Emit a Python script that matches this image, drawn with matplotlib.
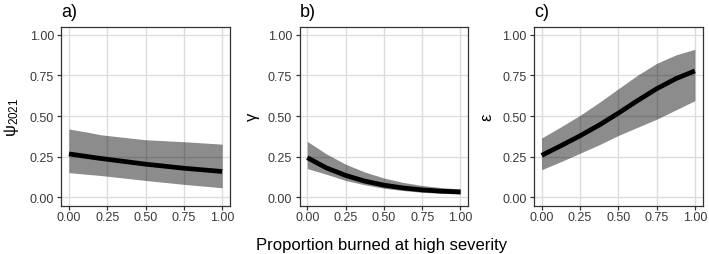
import matplotlib
matplotlib.use("Agg")
import matplotlib.pyplot as plt

plt.rcParams['font.family'] = ['Liberation Sans', 'DejaVu Sans']
plt.rcParams['mathtext.fontset'] = 'custom'
plt.rcParams['mathtext.rm'] = 'Liberation Sans'
plt.rcParams['mathtext.it'] = 'Liberation Sans'

# Panel a) psi_2021
x_a = [0.0, 0.125, 0.2, 0.25, 0.5, 0.75, 1.0]
mean_a = [0.267, 0.250, 0.240, 0.234, 0.204, 0.179, 0.159]
lower_a = [0.152, 0.141, 0.135, 0.130, 0.104, 0.080, 0.059]
upper_a = [0.420, 0.400, 0.386, 0.380, 0.354, 0.342, 0.327]

# Panel b) gamma
x_b = [0.0, 0.125, 0.25, 0.375, 0.5, 0.625, 0.75, 0.875, 1.0]
mean_b = [0.244, 0.181, 0.135, 0.100, 0.075, 0.058, 0.046, 0.038, 0.033]
lower_b = [0.177, 0.142, 0.104, 0.077, 0.056, 0.042, 0.031, 0.025, 0.021]
upper_b = [0.344, 0.267, 0.204, 0.156, 0.119, 0.092, 0.073, 0.060, 0.052]

# Panel c) epsilon
x_c = [0.0, 0.125, 0.25, 0.375, 0.5, 0.625, 0.75, 0.875, 1.0]
mean_c = [0.258, 0.317, 0.378, 0.444, 0.517, 0.594, 0.667, 0.729, 0.777]
lower_c = [0.170, 0.219, 0.271, 0.323, 0.380, 0.430, 0.480, 0.537, 0.594]
upper_c = [0.365, 0.433, 0.504, 0.583, 0.667, 0.750, 0.823, 0.875, 0.910]

titles = ["a)", "b)", "c)"]
ylabels = [r"$\mathregular{\psi_{2021}}$", "γ", "ε"]
ticks = [0.0, 0.25, 0.5, 0.75, 1.0]
tick_labels = ["0.00", "0.25", "0.50", "0.75", "1.00"]
xlabel = "Proportion burned at high severity"

W, H = 709, 255
fig = plt.figure(figsize=(W / 100, H / 100), dpi=100)
lefts = [61.3, 299.6, 534.0]
pw = 168.5
top, bottom = 27.5, 206.5

data = [(x_a, mean_a, lower_a, upper_a),
        (x_b, mean_b, lower_b, upper_b),
        (x_c, mean_c, lower_c, upper_c)]

for i, (xs, m, lo, up) in enumerate(data):
    ax = fig.add_axes([lefts[i] / W, (H - bottom) / H, pw / W, (bottom - top) / H])
    ax.fill_between(xs, lo, up, color="black", alpha=0.45, linewidth=0, zorder=2)
    ax.plot(xs, m, color="black", linewidth=3.4, solid_capstyle="butt",
            solid_joinstyle="round", zorder=3)
    ax.set_xlim(-0.05, 1.05)
    ax.set_ylim(-0.05, 1.05)
    ax.set_xticks(ticks)
    ax.set_xticklabels(tick_labels)
    ax.set_yticks(ticks)
    ax.set_yticklabels(tick_labels)
    ax.grid(True, color="#DCDCDC", linewidth=1.0, zorder=0)
    ax.set_axisbelow(True)
    for s in ax.spines.values():
        s.set_color("#333333")
        s.set_linewidth(0.9)
    ax.tick_params(axis="both", length=2.8, width=0.9, color="#333333",
                   labelsize=9, labelcolor="#3A3A3A")
    ax.tick_params(axis="x", pad=1.5)
    ax.tick_params(axis="y", pad=2.5)
    ax.set_ylabel(ylabels[i], fontsize=12, labelpad=6)
    ax.set_title(titles[i], loc="left", fontsize=13, pad=7.3, x=0.0)

fig.text(382 / W, 1 - 250 / H, xlabel, ha="center", va="baseline", fontsize=12)

fig.savefig("out.png", dpi=100)
